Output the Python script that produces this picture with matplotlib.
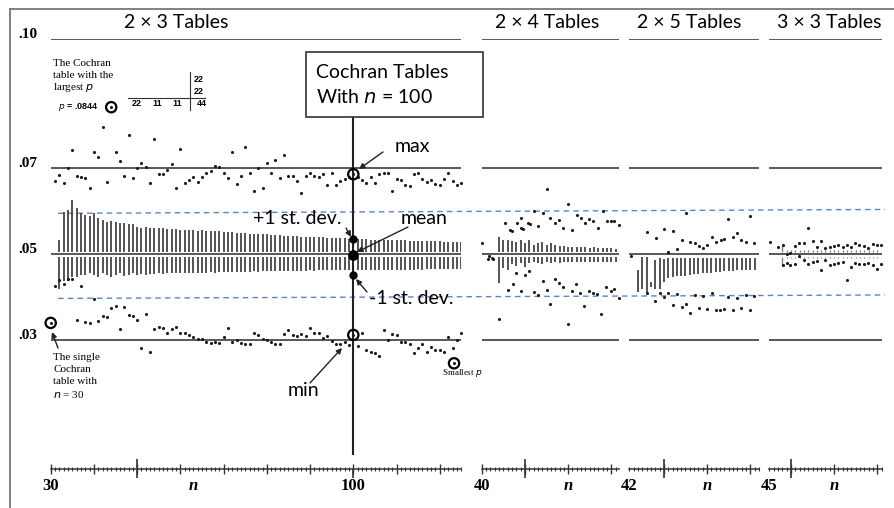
import numpy as np
import matplotlib.pyplot as plt
from matplotlib.ticker import MultipleLocator
from matplotlib.patches import Rectangle

W, H = 894, 508
PX_PER_N = 4.323          # horizontal scale shared by all four panels
Y_TOP, Y_BOT = 39.3, 469  # pixel rows of p = .10 and p = 0

# ---------------- data ----------------
# 2 x 3 tables, n = 31..125 : largest and smallest p for every n
n1 = list(range(31, 126))
hi1 = [0.0670, 0.0685, 0.0665, 0.0700, 0.0742, 0.0681, 0.0680, 0.0677, 0.0655, 0.0737,
       0.0725, 0.0795, 0.0667, 0.0842, 0.0737, 0.0717, 0.0682, 0.0777, 0.0677, 0.0700,
       0.0711, 0.0703, 0.0665, 0.0767, 0.0686, 0.0686, 0.0695, 0.0709, 0.0653, 0.0744,
       0.0665, 0.0672, 0.0679, 0.0668, 0.0679, 0.0688, 0.0693, 0.0706, 0.0702, 0.0688,
       0.0677, 0.0737, 0.0663, 0.0681, 0.0750, 0.0690, 0.0646, 0.0700, 0.0653, 0.0713,
       0.0690, 0.0720, 0.0677, 0.0730, 0.0683, 0.0683, 0.0670, 0.0642, 0.0683, 0.0688,
       0.0682, 0.0679, 0.0686, 0.0661, 0.0690, 0.0661, 0.0671, 0.0676, 0.0680, 0.0686,
       0.0680, 0.0672, 0.0665, 0.0679, 0.0666, 0.0686, 0.0688, 0.0690, 0.0648, 0.0676,
       0.0672, 0.0661, 0.0658, 0.0686, 0.0690, 0.0676, 0.0669, 0.0672, 0.0663, 0.0661,
       0.0676, 0.0690, 0.0671, 0.0661, 0.0665]
lo1 = [0.0426, 0.0440, 0.0430, 0.0442, 0.0442, 0.0347, 0.0426, 0.0343, 0.0339, 0.0395,
       0.0345, 0.0356, 0.0353, 0.0374, 0.0379, 0.0325, 0.0378, 0.0358, 0.0356, 0.0347,
       0.0281, 0.0361, 0.0273, 0.0325, 0.0331, 0.0327, 0.0316, 0.0325, 0.0330, 0.0317,
       0.0316, 0.0312, 0.0308, 0.0302, 0.0302, 0.0296, 0.0294, 0.0296, 0.0294, 0.0308,
       0.0327, 0.0296, 0.0300, 0.0294, 0.0292, 0.0290, 0.0316, 0.0312, 0.0302, 0.0300,
       0.0296, 0.0292, 0.0290, 0.0314, 0.0323, 0.0312, 0.0309, 0.0314, 0.0309, 0.0327,
       0.0317, 0.0316, 0.0306, 0.0309, 0.0298, 0.0292, 0.0291, 0.0296, 0.0288, 0.0312,
       0.0286, 0.0316, 0.0277, 0.0273, 0.0269, 0.0263, 0.0323, 0.0300, 0.0314, 0.0312,
       0.0296, 0.0296, 0.0291, 0.0269, 0.0281, 0.0291, 0.0273, 0.0283, 0.0278, 0.0277,
       0.0273, 0.0308, 0.0281, 0.0300, 0.0317]
# mean +/- 1 st. dev. bars, n = 32..125
bar_n1 = list(range(32, 126))
top1 = [0.0533, 0.0599, 0.0603, 0.0625, 0.0607, 0.0595, 0.0591, 0.0589, 0.0595, 0.0585,
        0.0579, 0.0575, 0.0577, 0.0575, 0.0573, 0.0572, 0.0570, 0.0570, 0.0564, 0.0562,
        0.0563, 0.0562, 0.0561, 0.0560, 0.0561, 0.0559, 0.0558, 0.0558, 0.0557, 0.0557,
        0.0556, 0.0556, 0.0555, 0.0556, 0.0554, 0.0554, 0.0553, 0.0553, 0.0552, 0.0551,
        0.0551, 0.0550, 0.0549, 0.0549, 0.0548, 0.0548, 0.0547, 0.0547, 0.0546, 0.0545,
        0.0545, 0.0544, 0.0543, 0.0543, 0.0542, 0.0542, 0.0541, 0.0541, 0.0540, 0.0540,
        0.0539, 0.0539, 0.0538, 0.0538, 0.0538, 0.0537, 0.0537, 0.0536, 0.0536, 0.0535,
        0.0535, 0.0535, 0.0534, 0.0534, 0.0534, 0.0533, 0.0533, 0.0533, 0.0532, 0.0532,
        0.0532, 0.0531, 0.0531, 0.0531, 0.0531, 0.0530, 0.0530, 0.0530, 0.0530, 0.0529,
        0.0529, 0.0529, 0.0529, 0.0528]
bot1 = [0.0420, 0.0438, 0.0438, 0.0447, 0.0447, 0.0451, 0.0451, 0.0455, 0.0451, 0.0447,
        0.0455, 0.0451, 0.0447, 0.0451, 0.0455, 0.0449, 0.0451, 0.0455, 0.0451, 0.0453,
        0.0452, 0.0454, 0.0453, 0.0455, 0.0454, 0.0455, 0.0455, 0.0456, 0.0455, 0.0456,
        0.0456, 0.0457, 0.0456, 0.0457, 0.0457, 0.0458, 0.0457, 0.0458, 0.0458, 0.0458,
        0.0459, 0.0458, 0.0459, 0.0459, 0.0459, 0.0460, 0.0459, 0.0460, 0.0460, 0.0460,
        0.0460, 0.0461, 0.0460, 0.0461, 0.0461, 0.0461, 0.0461, 0.0461, 0.0462, 0.0461,
        0.0462, 0.0462, 0.0462, 0.0462, 0.0462, 0.0462, 0.0463, 0.0462, 0.0463, 0.0463,
        0.0463, 0.0463, 0.0463, 0.0463, 0.0464, 0.0463, 0.0464, 0.0464, 0.0464, 0.0464,
        0.0464, 0.0464, 0.0464, 0.0465, 0.0464, 0.0465, 0.0465, 0.0465, 0.0465, 0.0465,
        0.0465, 0.0465, 0.0466, 0.0466]
# the Cochran tables with n = 100
n100_max, n100_plus, n100_mean, n100_minus, n100_min = 0.0686, 0.0536, 0.0498, 0.0452, 0.0312
single_n30 = 0.0340
largest = (44, 0.0842)
smallest = (123.3, 0.0246)

# 2 x 4 tables
bar_n2 = list(range(44, 73))
top2 = [0.0539, 0.0534, 0.0533, 0.0531, 0.0529, 0.0533, 0.0525, 0.0534, 0.0521, 0.0527,
        0.0529, 0.0521, 0.0527, 0.0521, 0.0519, 0.0519, 0.0517, 0.0516, 0.0517, 0.0516,
        0.0516, 0.0515, 0.0516, 0.0514, 0.0514, 0.0514, 0.0514, 0.0512, 0.0512]
bot2 = [0.0432, 0.0467, 0.0463, 0.0477, 0.0473, 0.0479, 0.0471, 0.0479, 0.0482, 0.0479,
        0.0477, 0.0482, 0.0480, 0.0481, 0.0480, 0.0481, 0.0481, 0.0481, 0.0481, 0.0482,
        0.0481, 0.0482, 0.0481, 0.0481, 0.0482, 0.0481, 0.0481, 0.0481, 0.0481]
hi2_n = [40, 41.4, 41.6, 42.4, 42.6, 45.4, 46.5, 46.9, 48.1, 49.1, 49.2, 49.6, 50.8, 51.2,
         52.1, 53.1, 54.1, 55.0, 55.9, 56.9, 57.9, 58.9, 59.9, 60.8, 62.0, 62.9, 63.9,
         64.8, 65.7, 66.8, 68.0, 68.9, 69.8, 70.7, 71.8]
hi2_p = [0.0525, 0.0488, 0.0495, 0.0492, 0.0489, 0.0572, 0.0556, 0.0555, 0.0573, 0.0583,
         0.0560, 0.0558, 0.0572, 0.0570, 0.0601, 0.0566, 0.0596, 0.0651, 0.0583, 0.0572,
         0.0580, 0.0560, 0.0616, 0.0556, 0.0591, 0.0583, 0.0572, 0.0581, 0.0578, 0.0560,
         0.0601, 0.0578, 0.0578, 0.0576, 0.0567]
lo2_n = [44.1, 46.0, 47.2, 47.9, 49.1, 50.0, 51.0, 52.1, 53.1, 54.1, 55.0, 55.8, 56.9,
         57.9, 58.9, 59.9, 60.8, 61.8, 62.7, 63.7, 64.9, 65.7, 66.7, 67.7, 68.8, 69.8,
         70.7, 71.8]
lo2_p = [0.0348, 0.0417, 0.0430, 0.0455, 0.0414, 0.0451, 0.0461, 0.0412, 0.0405, 0.0438,
         0.0417, 0.0383, 0.0442, 0.0432, 0.0424, 0.0337, 0.0414, 0.0430, 0.0409, 0.0380,
         0.0415, 0.0409, 0.0407, 0.0361, 0.0424, 0.0414, 0.0418, 0.0399]

# 2 x 5 tables
bar_n3 = list(range(44, 72))
top3 = [0.0463, 0.0494, 0.0494, 0.0436, 0.0487, 0.0490, 0.0488, 0.0490, 0.0492, 0.0492,
        0.0492, 0.0492, 0.0492, 0.0492, 0.0492, 0.0492, 0.0492, 0.0492, 0.0492, 0.0492,
        0.0492, 0.0492, 0.0492, 0.0492, 0.0492, 0.0492, 0.0492, 0.0492]
bot3 = [0.0412, 0.0420, 0.0409, 0.0424, 0.0420, 0.0420, 0.0436, 0.0444, 0.0446, 0.0448,
        0.0449, 0.0450, 0.0452, 0.0453, 0.0454, 0.0455, 0.0456, 0.0457, 0.0458, 0.0459,
        0.0460, 0.0460, 0.0461, 0.0462, 0.0462, 0.0463, 0.0463, 0.0463]
hi3_n = [42.3, 46.2, 48.2, 50.0, 51.0, 52.0, 53.1, 54.1, 55.1, 56.0, 57.2, 58.2, 59.1,
         60.0, 61.1, 62.1, 63.1, 64.0, 64.9, 65.9, 66.8, 67.8, 69.0, 69.9, 70.8]
hi3_p = [0.0496, 0.0552, 0.0537, 0.0558, 0.0506, 0.0555, 0.0513, 0.0533, 0.0595, 0.0529,
         0.0525, 0.0519, 0.0514, 0.0521, 0.0541, 0.0529, 0.0533, 0.0535, 0.0581, 0.0541,
         0.0550, 0.0533, 0.0529, 0.0589, 0.0525]
lo3_n = [46.0, 47.9, 49.1, 50.0, 51.0, 52.0, 53.1, 54.1, 55.1, 56.0, 57.2, 58.2, 59.1,
         60.0, 61.1, 62.1, 63.0, 64.0, 64.9, 65.9, 66.8, 67.8, 69.0, 69.9, 70.8]
lo3_p = [0.0409, 0.0392, 0.0410, 0.0401, 0.0409, 0.0382, 0.0407, 0.0376, 0.0384, 0.0362,
         0.0405, 0.0374, 0.0402, 0.0372, 0.0409, 0.0370, 0.0370, 0.0372, 0.0401, 0.0370,
         0.0397, 0.0375, 0.0405, 0.0369, 0.0402]

# 3 x 3 tables
bar_n4 = list(range(48, 72))
top4 = [0.0521] + [0.0510] * 23
bot4 = [0.0474] + [0.0490] * 23
hi4_n = [45.2, 47.1, 48.1, 49.0, 49.8, 50.9, 51.9, 53.0, 54.0, 55.0, 56.0, 57.0, 58.0,
         59.0, 60.0, 61.0, 62.0, 62.9, 63.8, 64.8, 65.8, 66.8, 67.9, 68.9, 69.8, 70.8]
hi4_p = [0.0529, 0.0516, 0.0521, 0.0500, 0.0502, 0.0519, 0.0525, 0.0527, 0.0562, 0.0531,
         0.0516, 0.0531, 0.0514, 0.0516, 0.0519, 0.0521, 0.0516, 0.0521, 0.0517, 0.0525,
         0.0521, 0.0519, 0.0514, 0.0523, 0.0521, 0.0521]
lo4_n = [48.1, 49.0, 49.9, 50.9, 51.9, 53.0, 54.0, 55.0, 56.0, 57.0, 58.0, 59.0, 60.0,
         61.0, 62.0, 62.9, 63.8, 64.8, 65.8, 66.8, 67.9, 68.9, 69.8, 70.8]
lo4_p = [0.0474, 0.0479, 0.0474, 0.0476, 0.0495, 0.0487, 0.0476, 0.0482, 0.0484, 0.0463,
         0.0486, 0.0474, 0.0476, 0.0479, 0.0482, 0.0441, 0.0470, 0.0479, 0.0476, 0.0476,
         0.0479, 0.0474, 0.0466, 0.0476]

ref_lines = [0.10, 0.07, 0.05, 0.03]
sd_band_left = [0.0595, 0.0397]
sd_band_right = [0.0604, 0.0405]

panels = [
    # title, first n, last n, left pixel, label n
    ("2 × 3 Tables", 30, 125, 50.7, 63),
    ("2 × 4 Tables", 40, 71.8, 481.7, 60),
    ("2 × 5 Tables", 42, 72, 629.3, 60),
    ("3 × 3 Tables", 45, 71, 769.3, 60),
]
title_x = [176, 547, 689, 829]

SERIF = "Liberation Serif"
SANS = "Lato"
LINE = "#4a4a4a"
BAR = "#454545"
DOT = "#1a1a1a"
BLUE = "#5b86c4"

fig = plt.figure(figsize=(W / 100, H / 100), dpi=100)

# overlay in pixel coordinates for the frame and free text
ov = fig.add_axes([0, 0, 1, 1], zorder=5)
ov.set_xlim(0, W)
ov.set_ylim(H, 0)
ov.axis("off")
ov.patch.set_alpha(0)

axes = []
for (title, n0, n1_, x0, nlab), tx in zip(panels, title_x):
    wpx = (n1_ - n0) * PX_PER_N
    ax = fig.add_axes([x0 / W, 1 - Y_BOT / H, wpx / W, (Y_BOT - Y_TOP) / H])
    ax.set_xlim(n0, n1_)
    ax.set_ylim(0, 0.10)
    ax.patch.set_alpha(0)
    for s in ["top", "left", "right"]:
        ax.spines[s].set_visible(False)
    ax.spines["bottom"].set_color("#333333")
    ax.spines["bottom"].set_linewidth(1.1)
    ax.set_yticks([])
    ax.xaxis.set_major_locator(MultipleLocator(10))
    ax.xaxis.set_minor_locator(MultipleLocator(1))
    ax.tick_params(axis="x", which="major", direction="inout", length=7, width=1.0,
                   color="#333333", labelbottom=False)
    ax.tick_params(axis="x", which="minor", direction="inout", length=3, width=0.8,
                   color="#333333")
    xt = ax.get_xaxis_transform()
    ax.vlines([50], -0.021, 0.023, transform=xt, color="#333333", lw=1.2, clip_on=False)
    ax.text(n0, -0.04, str(n0), transform=xt, ha="center", va="center",
            family=SERIF, weight="bold", fontsize=12)
    ax.text(nlab, -0.04, "n", transform=xt, ha="center", va="center",
            family=SERIF, weight="bold", style="italic", fontsize=12)
    for p in ref_lines:
        ax.axhline(p, color=LINE, lw=1.3, zorder=1)
    ov.text(tx, 23, title, ha="center", va="center", family=SANS, fontsize=14)
    axes.append(ax)

ax1, ax2, ax3, ax4 = axes
GAP = 0.0006


def draw_bars(ax, ns, tops, bots, lw=1.3, color=BAR):
    for n, t, b in zip(ns, tops, bots):
        if t > 0.05 + GAP:
            ax.vlines(n, 0.05 + GAP, t, color=color, lw=lw, zorder=2)
            if b < 0.05 - GAP:
                ax.vlines(n, b, 0.05 - GAP, color=color, lw=lw, zorder=2)
        else:
            ax.vlines(n, b, min(t, 0.05 - GAP), color=color, lw=lw, zorder=2)


draw_bars(ax1, bar_n1, top1, bot1)
draw_bars(ax2, bar_n2, top2, bot2)
draw_bars(ax3, bar_n3, top3, bot3)
draw_bars(ax4, bar_n4, top4, bot4, lw=0.9, color="#777777")

dot_kw = dict(s=5, color=DOT, linewidths=0, zorder=3, clip_on=False)
ax1.scatter(n1, hi1, **dot_kw)
ax1.scatter(n1, lo1, **dot_kw)
ax1.scatter([30], [single_n30], **dot_kw)
ax1.scatter([smallest[0]], [smallest[1]], **dot_kw)
ax2.scatter(hi2_n, hi2_p, **dot_kw)
ax2.scatter(lo2_n, lo2_p, **dot_kw)
ax3.scatter(hi3_n, hi3_p, **dot_kw)
ax3.scatter(lo3_n, lo3_p, **dot_kw)
ax4.scatter(hi4_n, hi4_p, **dot_kw)
ax4.scatter(lo4_n, lo4_p, **dot_kw)

# circled tables
circ_n = [100, 100, 30, largest[0], smallest[0]]
circ_p = [n100_max, n100_min, single_n30, largest[1], smallest[1]]
ax1.scatter(circ_n, circ_p, s=55, facecolors="none", edgecolors="black",
            linewidths=1.6, zorder=4, clip_on=False)

# n = 100 column
ax1.vlines(100, 0.0032, 0.0819, color="#222222", lw=1.5, zorder=3, clip_on=False)
ax1.scatter([100], [n100_mean], s=45, color="black", zorder=5)
ax1.scatter([100, 100], [n100_plus, n100_minus], s=25, color="black", zorder=5)
ax1.vlines([100], -0.021, 0.0, transform=ax1.get_xaxis_transform(), color="#333333",
           lw=1.2, clip_on=False)
ax1.text(100, -0.04, "100", transform=ax1.get_xaxis_transform(), ha="center",
         va="center", family=SERIF, weight="bold", fontsize=12)

# +/- 1 st. dev. dashed guides across all panels
n_left, n_right = 31.7, 223
for pl, pr in zip(sd_band_left, sd_band_right):
    ax1.plot([n_left, n_right], [pl, pr], color=BLUE, lw=1.0, dashes=(4, 3),
             zorder=1, clip_on=False)

# frame and y labels
ov.plot([9.5, 9.5], [H, 8.5], color="#777777", lw=1.3)
ov.plot([9.5, W], [8.5, 8.5], color="#777777", lw=1.3)
for lab, y in zip([".10", ".07", ".05", ".03"], [39.3, 168.2, 254.1, 340.0]):
    ov.text(37.5, y - 1, lab, ha="right", va="baseline", family=SERIF,
            weight="bold", fontsize=11)

# box
ov.add_patch(Rectangle((306, 52), 177, 65, fill=False, ec="#333333", lw=1.2))
ov.text(316, 72, "Cochran Tables", family=SANS, fontsize=14, va="center")
ov.text(316, 97, "With $\\it{n}$ = 100", family=SANS, fontsize=14, va="center")

# annotations
txt = dict(family=SANS, fontsize=14, va="center")
ov.text(395, 147, "max", **txt)
ov.text(253, 218, "+1 st. dev.", **txt)
ov.text(401, 219, "mean", **txt)
ov.text(369, 298, "-1 st. dev.", **txt)
ov.text(288, 391, "min", **txt)
arrows = [((383, 152), (359, 169)), ((346, 228), (351, 237)), ((408, 227), (357, 252)),
          ((367, 292), (356, 279)), ((310, 383), (342, 348)), ((58, 348), (52, 332))]
for (x0, y0), (x1, y1) in arrows:
    ov.annotate("", xy=(x1, y1), xytext=(x0, y0),
                arrowprops=dict(arrowstyle="-|>", color="#222222", lw=1.0,
                                mutation_scale=8, shrinkA=0, shrinkB=0))

small = dict(family=SERIF, fontsize=8, va="center")
for i, line in enumerate(["The Cochran", "table with the"]):
    ov.text(53, 63 + 12 * i, line, **small)
ov.text(53, 87, "largest $\\it{p}$", **small)
for i, line in enumerate(["The single", "Cochran", "table with"]):
    ov.text(53, 358 + 12 * i, line, **small)
ov.text(53, 394, "$\\it{n}$ = 30", **small)
ov.text(442, 373, "Smallest $\\it{p}$", family=SERIF, fontsize=6.5, va="center")

# the 2 x 3 Cochran table with the largest p
bold = dict(family="Liberation Sans", weight="bold", fontsize=6.5, va="center")
ov.text(58, 107, "$\\bf{\\it{p}}$ = .0844", **bold)
ov.text(199, 80, "22", ha="center", **bold)
ov.text(199, 91, "22", ha="center", **bold)
for x, v in zip([137, 157, 177, 202], ["22", "11", "11", "44"]):
    ov.text(x, 104, v, ha="center", **bold)
ov.plot([190, 190], [72, 110], color="#333333", lw=0.8)
ov.plot([128, 205], [97.5, 97.5], color="#333333", lw=0.8)

fig.savefig("out.png", dpi=100)
